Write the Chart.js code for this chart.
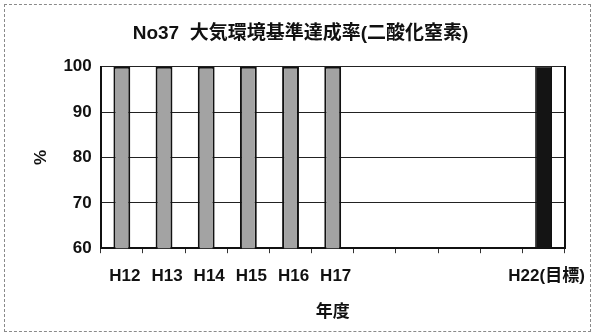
<!DOCTYPE html>
<html>
<head>
<meta charset="utf-8">
<script src="https://cdn.jsdelivr.net/npm/chart.js@4/dist/chart.umd.min.js"></script>
<style>
  html, body { margin: 0; padding: 0; background: #fff; }
  #wrap { position: relative; width: 596px; height: 335px; }
  #frame { position: absolute; left: 4px; top: 4px; width: 587px; height: 328px;
           border: 1px dashed #8a8a8a; box-sizing: border-box; pointer-events: none; }
  canvas { position: absolute; left: 0; top: 0; }
</style>
</head>
<body>
<div id="wrap">
  <canvas id="c" width="596" height="335"></canvas>
  <div id="frame"></div>
</div>
<script>
// Fiscal years (Heisei) shown along the x axis; H18–H21 are empty slots
const years = ['H12', 'H13', 'H14', 'H15', 'H16', 'H17', 'H18', 'H19', 'H20', 'H21', 'H22(目標)'];
const yearLabels = ['H12', 'H13', 'H14', 'H15', 'H16', 'H17', '', '', '', '', 'H22(目標)'];
// Achievement rate of the NO2 air-quality standard (%)
const achieved = [100, 100, 100, 100, 100, 100, null, null, null, null, null];
const target = [null, null, null, null, null, null, null, null, null, null, 100];
const yTicks = [60, 70, 80, 90, 100];

const FONT = "'Liberation Sans', 'Noto Sans CJK JP', sans-serif";

new Chart(document.getElementById('c'), {
  type: 'bar',
  data: {
    labels: years,
    datasets: [
      {
        label: '実績',
        data: achieved,
        backgroundColor: '#a3a3a3',
        borderColor: '#111',
        borderWidth: 2,
        grouped: false,
        categoryPercentage: 0.8,
        barPercentage: 0.5
      },
      {
        label: '目標',
        data: target,
        backgroundColor: '#141414',
        borderColor: '#111',
        borderWidth: 1,
        grouped: false,
        categoryPercentage: 0.8,
        barPercentage: 0.5
      }
    ]
  },
  options: {
    responsive: false,
    animation: false,
    layout: { padding: { left: 31, right: 26, top: 0, bottom: 12 } },
    plugins: {
      legend: { display: false },
      tooltip: { enabled: false },
      title: {
        display: true,
        text: 'No37  大気環境基準達成率(二酸化窒素)',
        color: '#111',
        font: { family: FONT, size: 19, weight: 'bold' },
        padding: { top: 22, bottom: 22 }
      }
    },
    scales: {
      x: {
        grid: { display: true, drawOnChartArea: false, drawTicks: true, tickLength: 5, color: '#333' },
        border: { display: true, color: '#111', width: 2 },
        ticks: {
          color: '#111',
          font: { family: FONT, size: 17, weight: 'bold' },
          padding: 13,
          maxRotation: 0,
          autoSkip: false,
          labelOffset: 3,
          callback: (v, i) => yearLabels[i]
        },
        title: {
          display: true,
          text: '年度',
          color: '#111',
          font: { family: FONT, size: 17, weight: 'bold' },
          padding: { top: 3, bottom: 0 }
        }
      },
      y: {
        min: 60,
        max: 100,
        afterBuildTicks: (axis) => { axis.ticks = yTicks.map(v => ({ value: v })); },
        grid: { color: '#222', lineWidth: 1, drawTicks: false },
        border: { display: true, color: '#111', width: 2 },
        ticks: {
          color: '#111',
          font: { family: FONT, size: 17, weight: 'bold' },
          padding: 9
        },
        title: {
          display: true,
          text: '%',
          color: '#111',
          font: { family: FONT, size: 17, weight: 'bold' },
          padding: { top: 0, bottom: 3 }
        }
      },
      yRight: {
        position: 'right',
        min: 60,
        max: 100,
        grid: { drawOnChartArea: false, drawTicks: false },
        border: { display: true, color: '#111', width: 2 },
        ticks: { display: false }
      }
    }
  }
});
</script>
</body>
</html>
